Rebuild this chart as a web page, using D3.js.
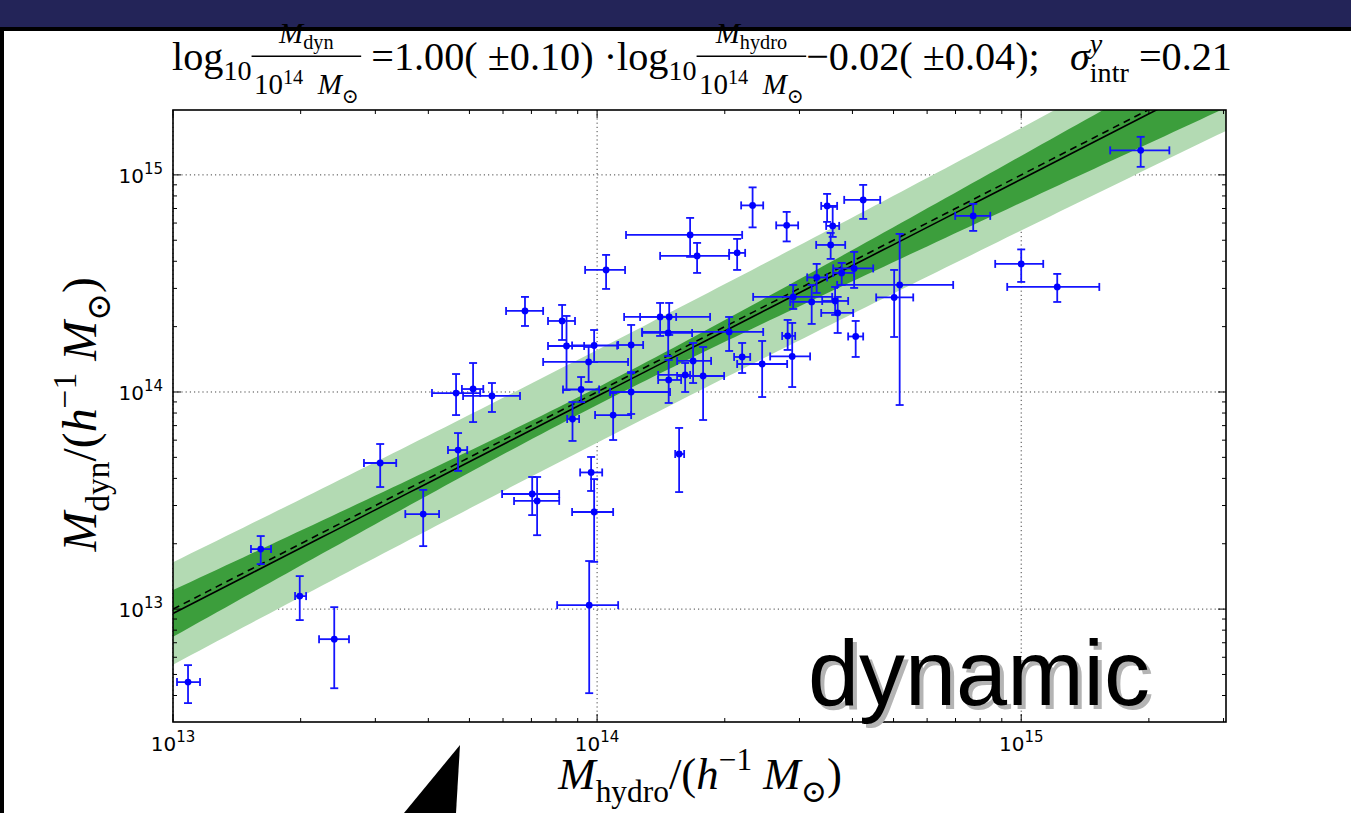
<!DOCTYPE html>
<html>
<head>
<meta charset="utf-8">
<script src="https://cdn.jsdelivr.net/npm/d3@7"></script>
<style>
body{margin:0;background:#fff;}
svg{display:block;}
text{white-space:pre;}
</style>
</head>
<body>
<svg id="chart"></svg>
<script>
"use strict";

// masses in units of 1e14 h^-1 Msun
const mHydro   = [0.1085,0.161,0.199,0.240,0.308,0.389,0.470,0.703,0.722,0.875,0.968,0.984,0.958,1.091,1.561,0.465,0.510,0.565,0.676,0.827,0.847,0.984,0.955,0.917,1.050,1.203,1.203,1.408,1.479,1.471,2.326,2.799,1.657,1.721,2.139,2.048,1.684,1.613,1.778,1.475,2.198,2.450,2.814,2.884,2.900,3.486,4.240,3.593,3.554,4.037,3.773,3.294,3.206,3.641,3.692,4.071,5.017,5.169,7.705,10.0,12.16,19.13];
const mHydroLo = [0.1022,0.1527,0.194,0.221,0.282,0.353,0.445,0.597,0.637,0.850,0.912,0.873,0.805,0.989,1.528,0.408,0.480,0.483,0.610,0.766,0.766,0.873,0.746,0.831,0.937,1.121,1.073,1.158,1.263,1.277,2.186,2.644,1.170,1.408,2.048,1.277,1.544,1.393,1.544,1.393,2.104,2.139,2.731,2.559,2.333,3.376,3.825,3.468,3.285,3.603,3.603,3.129,2.853,3.394,3.376,3.908,4.550,3.681,6.988,8.683,9.268,16.21];
const mHydroHi = [0.1158,0.1703,0.206,0.260,0.336,0.424,0.494,0.814,0.814,0.907,1.028,1.091,1.121,1.203,1.604,0.530,0.539,0.658,0.746,0.887,0.932,1.115,1.183,1.011,1.164,1.284,1.486,1.536,1.847,1.675,2.464,2.979,2.198,2.048,2.234,2.464,1.857,1.657,1.993,1.578,2.296,2.806,2.931,3.179,3.583,3.681,4.651,3.722,3.846,4.477,4.037,3.486,3.641,3.908,4.016,4.240,5.564,6.912,8.452,11.27,15.28,22.35];
const mDyn     = [0.0461,0.189,0.1148,0.0727,0.471,0.274,0.540,0.339,0.315,0.751,0.426,0.280,0.1043,0.783,0.518,0.989,1.032,0.959,2.362,2.124,1.629,1.637,1.375,1.027,3.649,1.646,1.000,2.216,2.216,1.870,7.235,5.854,5.290,4.234,4.371,1.890,1.390,1.198,1.185,1.136,1.450,1.346,1.812,1.458,2.741,7.195,7.670,5.821,4.757,3.708,3.535,3.371,2.598,2.626,2.312,1.802,2.726,3.112,6.473,3.890,3.047,12.97];
const mDynLo   = [0.0369,0.1612,0.0890,0.0432,0.365,0.195,0.433,0.271,0.219,0.595,0.350,0.165,0.0410,0.601,0.346,0.783,0.727,0.809,2.014,1.736,1.021,1.375,1.112,0.899,2.983,1.236,0.792,1.812,1.831,1.465,5.731,4.937,4.190,3.535,3.649,1.545,1.100,1.000,0.743,0.890,1.223,0.948,1.562,1.054,2.412,6.073,6.269,5.179,4.102,3.015,3.112,2.859,2.058,2.264,1.870,1.450,1.792,0.871,5.521,3.213,2.598,10.89];
const mDynHi   = [0.0552,0.217,0.1419,0.1021,0.576,0.354,0.647,0.406,0.406,0.899,0.502,0.397,0.1665,0.989,0.683,1.210,1.360,1.100,2.741,2.517,2.240,1.930,1.612,1.172,4.279,2.036,1.223,2.571,2.571,2.216,8.759,6.753,6.336,4.860,5.072,2.216,1.682,1.360,1.612,1.404,1.682,1.718,2.147,2.080,3.112,8.173,8.994,7.119,5.403,4.418,3.931,3.890,3.112,3.047,2.741,2.124,3.649,5.347,7.350,4.536,3.498,14.97];

// fit from the title
const fitSlope = 1.00;
const fitSlopeErr = 0.10;
const fitNorm = -0.02;
const fitNormErr = 0.04;
const sigmaIntr = 0.21;

const majorTicks = [0.1, 1, 10];
const tickExp = 14;

const W = 1351, H = 813;
const PL = 173, PR = 1226, PT = 110, PB = 722;

const svg = d3.select('#chart').attr('width', W).attr('height', H);

// slide background
svg.append('rect').attr('width', W).attr('height', H).attr('fill', '#232458');
svg.append('rect').attr('x', 0).attr('y', 27).attr('width', W).attr('height', H - 27).attr('fill', '#000');
svg.append('rect').attr('x', 4).attr('y', 31).attr('width', W - 4).attr('height', H - 31).attr('fill', '#fff');

const x = d3.scaleLog().domain([0.1, 30.4]).range([PL, PR]);
const y = d3.scaleLog().domain([0.0302, 19.9]).range([PB, PT]);

svg.append('clipPath').attr('id', 'plotClip')
    .append('rect').attr('x', PL).attr('y', PT).attr('width', PR - PL).attr('height', PB - PT);

const groupGrid = svg.append('g');
const groupBand = svg.append('g').attr('clip-path', 'url(#plotClip)');
const groupFit = svg.append('g').attr('clip-path', 'url(#plotClip)');
const groupErr = svg.append('g');
const groupDot = svg.append('g');
const groupAxis = svg.append('g');
const groupText = svg.append('g');

// grid
groupGrid.selectAll('line.gx')
    .data(majorTicks)
    .join('line')
    .attr('class', 'gx')
    .attr('x1', d => x(d)).attr('x2', d => x(d))
    .attr('y1', PT).attr('y2', PB)
    .attr('stroke', '#444').attr('stroke-width', 1)
    .attr('stroke-dasharray', '1.2,3');
groupGrid.selectAll('line.gy')
    .data(majorTicks)
    .join('line')
    .attr('class', 'gy')
    .attr('x1', PL).attr('x2', PR)
    .attr('y1', d => y(d)).attr('y2', d => y(d))
    .attr('stroke', '#444').attr('stroke-width', 1)
    .attr('stroke-dasharray', '1.2,3');

// fit bands
const lx0 = Math.log10(x.domain()[0]), lx1 = Math.log10(x.domain()[1]);
const xs = d3.range(0, 121).map(i => Math.pow(10, lx0 + (lx1 - lx0) * i / 120));
const fitLog = v => fitSlope * Math.log10(v) + fitNorm;
const confErr = v => Math.sqrt(fitNormErr ** 2 + (fitSlopeErr * Math.log10(v)) ** 2);
const totErr = v => Math.sqrt(confErr(v) ** 2 + sigmaIntr ** 2);

function bandArea(errFn){
    return d3.area()
        .x(d => x(d))
        .y0(d => y(Math.pow(10, fitLog(d) - errFn(d))))
        .y1(d => y(Math.pow(10, fitLog(d) + errFn(d))));
}
groupBand.append('path').attr('d', bandArea(totErr)(xs)).attr('fill', '#b3dab3');
groupBand.append('path').attr('d', bandArea(confErr)(xs)).attr('fill', '#3c9e3c');

const line = d3.line().x(d => x(d[0])).y(d => y(d[1]));
groupFit.append('path')
    .attr('d', line(xs.map(v => [v, v])))
    .attr('fill', 'none').attr('stroke', '#000').attr('stroke-width', 1.6)
    .attr('stroke-dasharray', '7,5');
groupFit.append('path')
    .attr('d', line(xs.map(v => [v, Math.pow(10, fitLog(v))])))
    .attr('fill', 'none').attr('stroke', '#000').attr('stroke-width', 1.6);

// data with error bars
const pts = d3.range(mHydro.length).map(i => ({
    cx: x(mHydro[i]), cy: y(mDyn[i]),
    xl: x(mHydroLo[i]), xh: x(mHydroHi[i]),
    yl: y(mDynLo[i]), yh: y(mDynHi[i])
}));
const CAP = 4;
const segs = [];
pts.forEach(p => {
    segs.push([p.xl, p.cy, p.xh, p.cy]);
    segs.push([p.xl, p.cy - CAP, p.xl, p.cy + CAP]);
    segs.push([p.xh, p.cy - CAP, p.xh, p.cy + CAP]);
    segs.push([p.cx, p.yl, p.cx, p.yh]);
    segs.push([p.cx - CAP, p.yl, p.cx + CAP, p.yl]);
    segs.push([p.cx - CAP, p.yh, p.cx + CAP, p.yh]);
});
groupErr.selectAll('line')
    .data(segs)
    .join('line')
    .attr('x1', d => d[0]).attr('y1', d => d[1])
    .attr('x2', d => d[2]).attr('y2', d => d[3])
    .attr('stroke', '#1414ff').attr('stroke-width', 1.8);
groupDot.selectAll('circle')
    .data(pts)
    .join('circle')
    .attr('cx', d => d.cx).attr('cy', d => d.cy)
    .attr('r', 3.4).attr('fill', '#0000ff');

// frame and ticks
groupAxis.append('rect')
    .attr('x', PL).attr('y', PT).attr('width', PR - PL).attr('height', PB - PT)
    .attr('fill', 'none').attr('stroke', '#000').attr('stroke-width', 1.6);

function minorOf(scale){
    const [a, b] = scale.domain();
    const out = [];
    for (let e = Math.floor(Math.log10(a)); e <= Math.ceil(Math.log10(b)); e++) {
        for (let k = 2; k <= 9; k++) {
            const v = k * Math.pow(10, e);
            if (v > a && v < b) out.push(v);
        }
    }
    return out;
}
const xTickSet = majorTicks.map(v => [v, 8]).concat(minorOf(x).map(v => [v, 4]));
const yTickSet = majorTicks.map(v => [v, 8]).concat(minorOf(y).map(v => [v, 4]));
const tickLines = [];
xTickSet.forEach(([v, len]) => {
    tickLines.push([x(v), PB, x(v), PB - len]);
    tickLines.push([x(v), PT, x(v), PT + len]);
});
yTickSet.forEach(([v, len]) => {
    tickLines.push([PL, y(v), PL + len, y(v)]);
    tickLines.push([PR, y(v), PR - len, y(v)]);
});
groupAxis.selectAll('line')
    .data(tickLines)
    .join('line')
    .attr('x1', d => d[0]).attr('y1', d => d[1])
    .attr('x2', d => d[2]).attr('y2', d => d[3])
    .attr('stroke', '#000').attr('stroke-width', 1);

// tick labels 10^n
function tickLabel(sel){
    sel.attr('font-family', 'DejaVu Sans').attr('font-size', 20).attr('fill', '#000');
    sel.append('tspan').text('10');
    sel.append('tspan').attr('dy', -9).attr('font-size', 15)
        .text(d => Math.round(Math.log10(d)) + tickExp);
}
groupText.selectAll('text.xl')
    .data(majorTicks)
    .join('text')
    .attr('class', 'xl')
    .attr('x', d => x(d)).attr('y', PB + 29)
    .attr('text-anchor', 'middle')
    .call(tickLabel);
groupText.selectAll('text.yl')
    .data(majorTicks)
    .join('text')
    .attr('class', 'yl')
    .attr('x', PL - 10).attr('y', d => y(d) + 8)
    .attr('text-anchor', 'end')
    .call(tickLabel);

// simple math-like text runs
function putRun(g, list, size){
    let cx = 0;
    list.forEach(s => {
        if (s.num) {
            const fs = size * 0.72;
            const fg = g.append('g');
            const ng = fg.append('g'), dg = fg.append('g');
            const nw = putRun(ng, s.num, fs), dw = putRun(dg, s.den, fs);
            const w = Math.max(nw, dw) + size * 0.12;
            ng.attr('transform', `translate(${(w - nw) / 2},${-size * 0.66})`);
            dg.attr('transform', `translate(${(w - dw) / 2},${size * 0.6})`);
            fg.append('line')
                .attr('x1', 0).attr('x2', w)
                .attr('y1', -size * 0.34).attr('y2', -size * 0.34)
                .attr('stroke', '#000').attr('stroke-width', size * 0.035);
            fg.attr('transform', `translate(${cx},0)`);
            cx += w;
            return;
        }
        const t = g.append('text')
            .attr('x', cx).attr('y', (s.dy || 0) * size)
            .attr('font-size', (s.k || 1) * size)
            .attr('font-style', s.it ? 'italic' : null)
            .text(s.t);
        const w = t.node().getComputedTextLength();
        if (!s.hold) cx += w;
    });
    return cx;
}
function mathBlock(list, size){
    const g = groupText.append('g')
        .attr('font-family', 'Liberation Serif, DejaVu Serif, serif')
        .attr('fill', '#000');
    const inner = g.append('g');
    putRun(inner, list, size);
    return {g, inner, box: inner.node().getBBox()};
}

const msun = [{t: '10'}, {t: '14', k: 0.7, dy: -0.36}, {t: '  '}, {t: 'M', it: 1}, {t: '\u2299', k: 0.7, dy: 0.3}];
const titleRun = [
    {t: 'log'}, {t: '10', k: 0.7, dy: 0.26},
    {num: [{t: 'M', it: 1}, {t: 'dyn', k: 0.7, dy: 0.2}], den: msun},
    {t: ' =1.00( \u00b10.10) \u00b7log'}, {t: '10', k: 0.7, dy: 0.26},
    {num: [{t: 'M', it: 1}, {t: 'hydro', k: 0.7, dy: 0.2}], den: msun},
    {t: '\u22120.02( \u00b10.04);   '},
    {t: '\u03c3', it: 1}, {t: 'y', it: 1, k: 0.7, dy: -0.42, hold: 1}, {t: 'intr', k: 0.7, dy: 0.3},
    {t: ' =0.21'}
];
const title = mathBlock(titleRun, 34);
{
    const k = 1060 / title.box.width;
    title.g.attr('transform', `translate(${172 - title.box.x * k},70) scale(${k})`);
}

const unitRun = sub => [
    {t: 'M', it: 1}, {t: sub, k: 0.7, dy: 0.28}, {t: '/('}, {t: 'h', it: 1},
    {t: '\u22121', k: 0.7, dy: -0.42}, {t: ' '}, {t: 'M', it: 1}, {t: '\u2299', k: 0.7, dy: 0.3}, {t: ')'}
];
const xLab = mathBlock(unitRun('hydro'), 34);
{
    const k = 285 / xLab.box.width;
    xLab.g.attr('transform', `translate(${557 - xLab.box.x * k},789) scale(${k})`);
}
const yLab = mathBlock(unitRun('dyn'), 34);
{
    const k = 276 / yLab.box.width;
    yLab.g.attr('transform', `translate(96,${553 + yLab.box.x * k}) rotate(-90) scale(${k})`);
}

// slide overlay
const word = 'dynamic';
const shadow = svg.append('text')
    .attr('x', 812).attr('y', 709)
    .attr('font-family', 'Liberation Sans, Arial, sans-serif')
    .attr('font-size', 92).attr('fill', '#b4b4b4').text(word);
const front = svg.append('text')
    .attr('x', 808).attr('y', 705)
    .attr('font-family', 'Liberation Sans, Arial, sans-serif')
    .attr('font-size', 92).attr('fill', '#000').text(word);
{
    const w = front.node().getComputedTextLength();
    const fs = 92 * 342 / w;
    shadow.attr('font-size', fs);
    front.attr('font-size', fs);
}
svg.append('polygon')
    .attr('points', '460,745 404,813 456,813')
    .attr('fill', '#000');
</script>
</body>
</html>
